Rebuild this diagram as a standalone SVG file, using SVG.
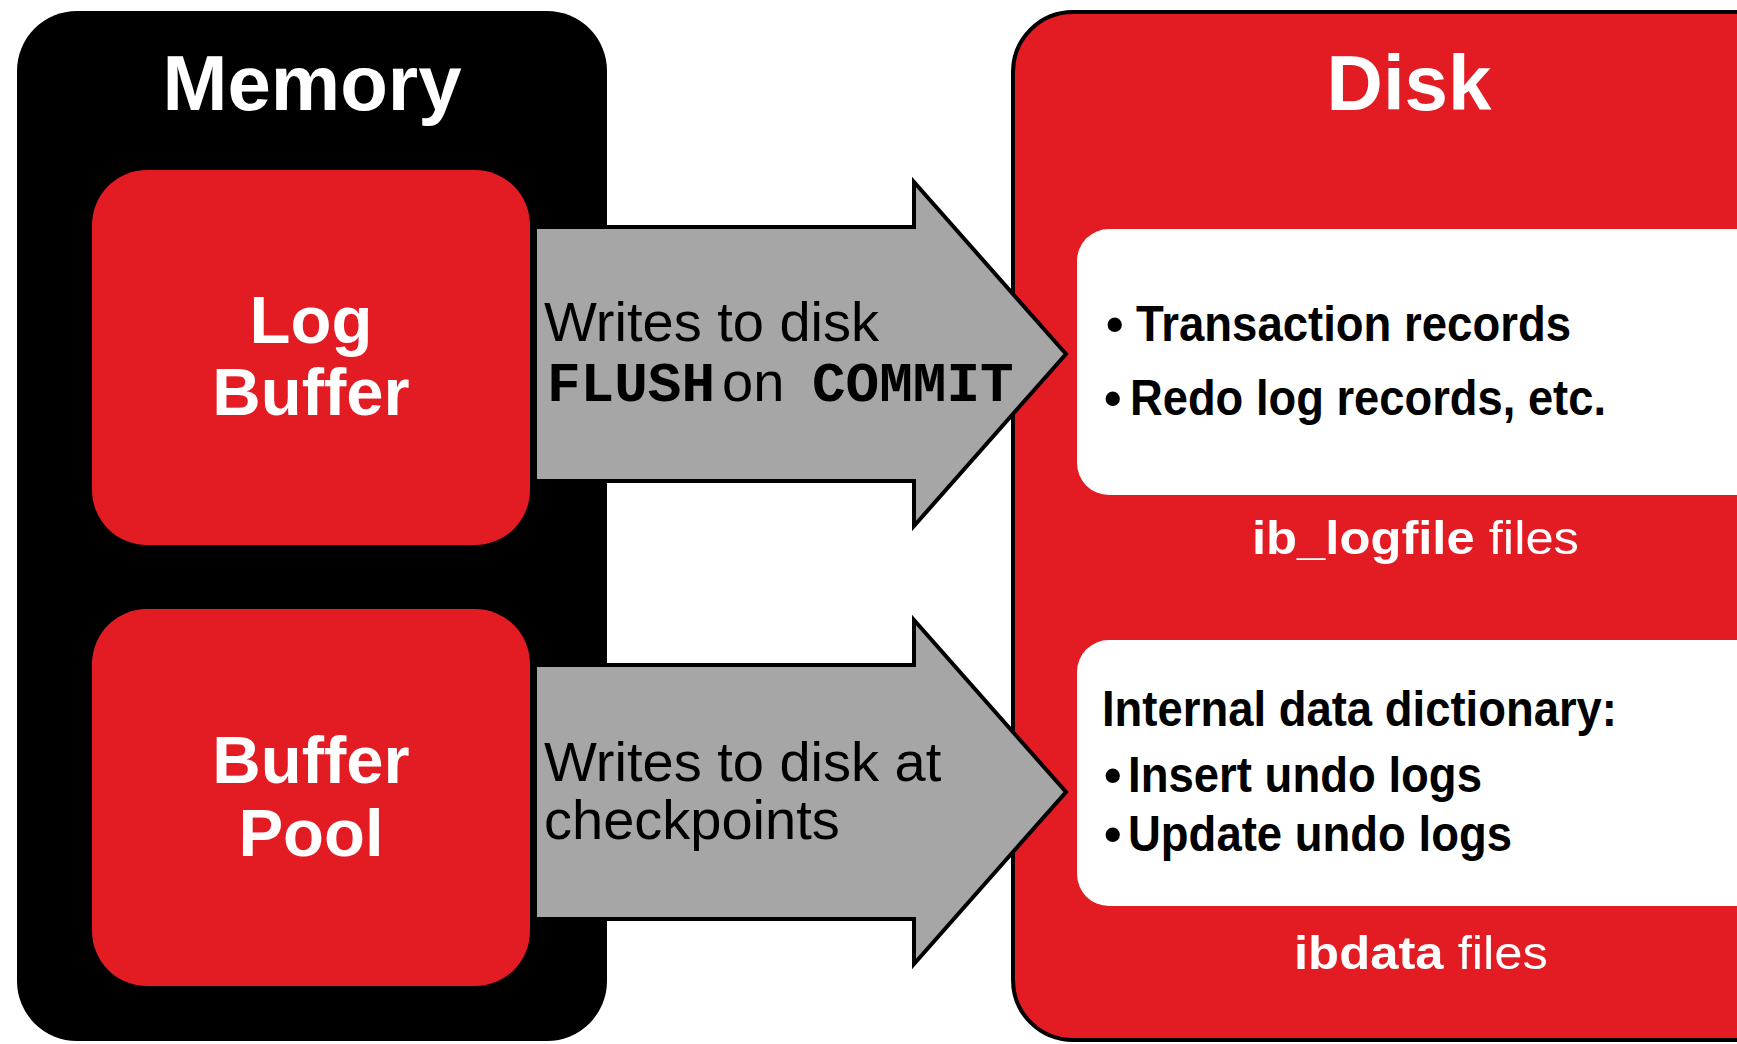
<svg xmlns="http://www.w3.org/2000/svg" width="1737" height="1044" viewBox="0 0 1737 1044">
<style>
.red{fill:#e31b23}
.hdr{font-family:"Liberation Sans",Arial,sans-serif;font-weight:bold;fill:#fff;text-anchor:middle}
.lbl{font-family:"Liberation Sans",Arial,sans-serif;font-weight:bold;fill:#fff;font-size:67px;text-anchor:middle}
.arr{fill:#a6a6a6;stroke:#000;stroke-width:4;stroke-linejoin:miter}
.atx{font-family:"Liberation Sans",Arial,sans-serif;font-size:56px;fill:#000}
.mono{font-family:"Liberation Mono","Courier New",monospace;font-weight:bold}
.btx{font-family:"Liberation Sans",Arial,sans-serif;font-weight:bold;font-size:50px;fill:#000}
.ftx{font-family:"Liberation Sans",Arial,sans-serif;font-size:47px;fill:#fff}
</style>
<rect width="1737" height="1044" fill="#fff"/>
<g id="memory">
<rect x="17" y="11" width="590" height="1030" rx="60" fill="#000"/>
<text class="hdr" x="312" y="110" font-size="78">Memory</text>
</g>
<g id="disk">
<rect x="1013" y="12" width="800" height="1028" rx="60" class="red" stroke="#000" stroke-width="4"/>
<text class="hdr" x="1409" y="110" font-size="78">Disk</text>
</g>
<g id="log-buffer">
<rect x="92" y="170" width="438" height="375" rx="55" class="red"/>
<text class="lbl" x="311" y="343">Log</text>
<text class="lbl" x="311" y="415">Buffer</text>
</g>
<g id="buffer-pool">
<rect x="92" y="609" width="438" height="377" rx="55" class="red"/>
<text class="lbl" x="311" y="783">Buffer</text>
<text class="lbl" x="311" y="856">Pool</text>
</g>
<g id="ib-logfile">
<rect x="1077" y="229" width="720" height="266" rx="32" fill="#fff"/>
<text class="btx" x="1106" y="341">•</text>
<text class="btx" x="1136" y="341" textLength="435" lengthAdjust="spacingAndGlyphs">Transaction records</text>
<text class="btx" x="1104" y="415">•</text>
<text class="btx" x="1130" y="415" textLength="476" lengthAdjust="spacingAndGlyphs">Redo log records, etc.</text>
<text class="ftx" x="1252" y="554" textLength="327" lengthAdjust="spacingAndGlyphs"><tspan font-weight="bold">ib_logfile</tspan> files</text>
</g>
<g id="ibdata">
<rect x="1077" y="640" width="720" height="266" rx="32" fill="#fff"/>
<text class="btx" x="1102" y="726" textLength="515" lengthAdjust="spacingAndGlyphs">Internal data dictionary:</text>
<text class="btx" x="1104" y="792">•</text>
<text class="btx" x="1128" y="792" textLength="354" lengthAdjust="spacingAndGlyphs">Insert undo logs</text>
<text class="btx" x="1104" y="851">•</text>
<text class="btx" x="1128" y="851" textLength="384" lengthAdjust="spacingAndGlyphs">Update undo logs</text>
<text class="ftx" x="1294" y="969" textLength="254" lengthAdjust="spacingAndGlyphs"><tspan font-weight="bold">ibdata</tspan> files</text>
</g>
<g id="connectors">
<g id="arrow-flush">
<path class="arr" d="M535,227 L914,227 L914,182 L1066,354 L914,526 L914,481 L535,481 Z"/>
<text class="atx" x="544" y="341">Writes to disk</text>
<text class="atx" y="401"><tspan class="mono" x="547">FLUSH</tspan><tspan x="722">on</tspan><tspan class="mono" x="812">COMMIT</tspan></text>
</g>
<g id="arrow-checkpoint">
<path class="arr" d="M535,665 L914,665 L914,620 L1066,792 L914,964 L914,919 L535,919 Z"/>
<text class="atx" x="544" y="781">Writes to disk at</text>
<text class="atx" x="544" y="839">checkpoints</text>
</g>
</g>
</svg>
